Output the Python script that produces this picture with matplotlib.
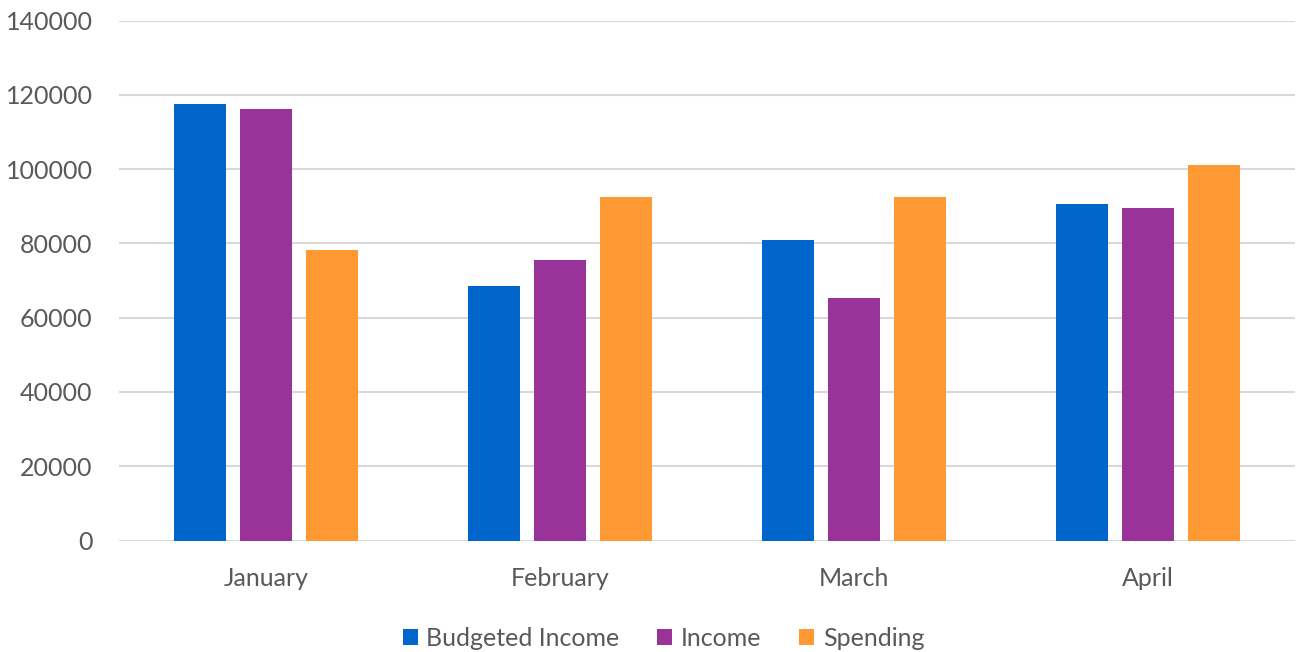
import matplotlib.pyplot as plt
import numpy as np

# ----------------- DATA -----------------
months = ["January", "February", "March", "April"]
budgeted_income = [117400, 68500, 80900, 90500]
income = [116300, 75400, 65300, 89400]
spending = [78100, 92500, 92500, 101000]

series = ["Budgeted Income", "Income", "Spending"]
colors = ["#0066CC", "#993399", "#FF9933"]

plt.rcParams["font.family"] = ["Lato", "DejaVu Sans"]

fig = plt.figure(figsize=(12.96, 6.52), dpi=100)
ax = fig.add_axes([0.0918, 0.171, 0.9074, 0.7975])

x = np.arange(len(months))
width = 0.177
step = 0.2235
for i, (vals, name, c) in enumerate(zip([budgeted_income, income, spending], series, colors)):
    ax.bar(x + (i - 1) * step, vals, width, color=c, label=name, zorder=3)

ax.set_xlim(-0.5, len(months) - 0.5)
ax.set_ylim(0, 140000)
ax.set_yticks(range(0, 140001, 20000))
ax.set_xticks(x)
ax.set_xticklabels(months)
ax.tick_params(axis="both", length=0, colors="#595959", labelsize=18)
ax.tick_params(axis="y", pad=19)
ax.tick_params(axis="x", pad=19)
ax.grid(axis="y", color="#D9D9D9", linewidth=1.5, zorder=0)
for s in ax.spines.values():
    s.set_visible(False)

ax.legend(loc="center", bbox_to_anchor=(0.463, -0.1875), ncol=3, frameon=False,
          fontsize=18, labelcolor="#595959", handlelength=0.6, handleheight=0.6,
          handletextpad=0.35, columnspacing=1.5)

fig.savefig("out.png", dpi=100)
